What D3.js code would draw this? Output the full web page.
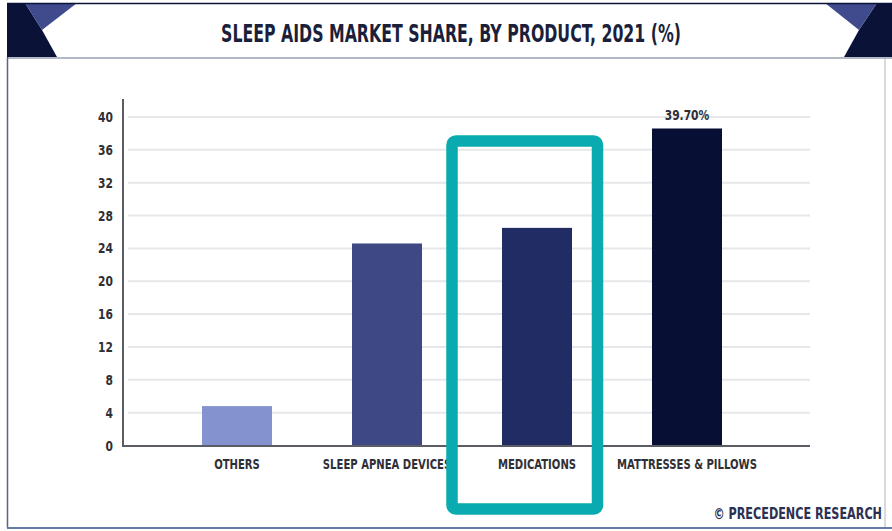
<!DOCTYPE html>
<meta charset="utf-8">
<style>
    body { margin: 0; background: #fff; }
    text { font-family: "Liberation Sans Narrow", "DejaVu Sans Condensed", "Roboto", sans-serif; font-weight: bold; }
    .grid line { stroke: #e7e7ea; stroke-width: 2px; }
    .tick-label { font-size: 14px; fill: #2f2f36; }
</style>
<svg width="892" height="531"></svg>
<script src="https://cdn.jsdelivr.net/npm/d3@7"></script>
<script>

    var categories = ["OTHERS", "SLEEP APNEA DEVICES", "MEDICATIONS", "MATTRESSES & PILLOWS"];
    var shares = [4.8, 24.6, 26.5, 38.6];
    var barColors = ["#8493cf", "#3d4884", "#212b64", "#080f35"];
    var yTicks = [0, 4, 8, 12, 16, 20, 24, 28, 32, 36, 40];
    var topLabel = "39.70%";
    var title = "SLEEP AIDS MARKET SHARE, BY PRODUCT, 2021 (%)";
    var credit = "\u00A9 PRECEDENCE RESEARCH";

    var svg = d3.select("svg");

    // squeeze a text horizontally so it looks like the narrow poster font
    function narrow(sel, cx, cy, sx) {
        sel.attr("x", 0).attr("y", 0)
            .attr("transform", "translate(" + cx + "," + cy + ") scale(" + sx + ",1)");
    }

    // header banner
    var head = svg.append("g");
    head.append("polygon").attr("points", "7,3 25,3 42,30 57,57 7,57").attr("fill", "#0b1238");
    head.append("polygon").attr("points", "25,3 77,3 42,30").attr("fill", "#3f4b8c");
    head.append("polygon").attr("points", "877,3 892,3 892,57 844,57 859,30").attr("fill", "#0b1238");
    head.append("polygon").attr("points", "825,3 877,3 859,30").attr("fill", "#3f4b8c");
    head.append("line").attr("x1", 7).attr("x2", 892).attr("y1", 3.5).attr("y2", 3.5)
        .attr("stroke", "#0b1238").attr("stroke-width", 1.5);
    head.append("line").attr("x1", 7).attr("x2", 892).attr("y1", 58).attr("y2", 58)
        .attr("stroke", "#9aa0b4").attr("stroke-width", 1.5);

    head.append("text")
        .attr("text-anchor", "middle")
        .style("font-size", "24px")
        .style("fill", "#1b1f3a")
        .text(title)
        .call(narrow, 451, 42, 0.73);

    // frame of the chart area
    svg.append("line").attr("x1", 7.5).attr("x2", 7.5).attr("y1", 57).attr("y2", 528)
        .attr("stroke", "#5a6286").attr("stroke-width", 1.5);
    svg.append("line").attr("x1", 885).attr("x2", 885).attr("y1", 59).attr("y2", 528)
        .attr("stroke", "#c9ccd6").attr("stroke-width", 1.5);
    svg.append("line").attr("x1", 7).attr("x2", 892).attr("y1", 528).attr("y2", 528)
        .attr("stroke", "#6a7aa6").attr("stroke-width", 2);

    var x = d3.scaleBand()
        .domain(categories)
        .range([162, 762])
        .paddingInner(0.5333)
        .paddingOuter(0.2667);

    var y = d3.scaleLinear().domain([0, 40]).range([445.5, 117]);

    // gridlines
    svg.append("g")
        .attr("class", "grid")
        .selectAll("line")
        .data(yTicks.slice(1))
        .enter().append("line")
        .attr("x1", 128).attr("x2", 810)
        .attr("y1", function(d) { return y(d); })
        .attr("y2", function(d) { return y(d); });

    // y axis labels
    svg.append("g")
        .selectAll("text")
        .data(yTicks)
        .enter().append("text")
        .attr("class", "tick-label")
        .attr("dy", "0.36em")
        .attr("text-anchor", "end")
        .text(function(d) { return d; })
        .each(function(d) { d3.select(this).call(narrow, 113, y(d), 0.85); });

    // bars
    svg.append("g")
        .selectAll("rect")
        .data(shares)
        .enter().append("rect")
        .attr("x", function(d, i) { return x(categories[i]); })
        .attr("y", function(d) { return y(d); })
        .attr("width", x.bandwidth())
        .attr("height", function(d) { return y(0) - y(d); })
        .attr("fill", function(d, i) { return barColors[i]; });

    // axes lines
    svg.append("line").attr("x1", 123).attr("x2", 810).attr("y1", y(0) + 0.5).attr("y2", y(0) + 0.5)
        .attr("stroke", "#5c5c64").attr("stroke-width", 2);
    svg.append("line").attr("x1", 123).attr("x2", 123).attr("y1", 99).attr("y2", y(0) + 1.5)
        .attr("stroke", "#5c5c64").attr("stroke-width", 2);

    // category labels
    svg.append("g")
        .selectAll("text")
        .data(categories)
        .enter().append("text")
        .attr("text-anchor", "middle")
        .style("font-size", "14px")
        .style("fill", "#2f2f36")
        .text(function(d) { return d; })
        .each(function(d) { d3.select(this).call(narrow, x(d) + x.bandwidth() / 2, 469, 0.8); });

    // value label on the tallest bar
    svg.append("text")
        .attr("text-anchor", "middle")
        .style("font-size", "14px")
        .style("fill", "#2f2f36")
        .text(topLabel)
        .call(narrow, x(categories[3]) + x.bandwidth() / 2, y(shares[3]) - 8, 0.85);

    // highlight box
    svg.append("rect")
        .attr("x", 452)
        .attr("y", 141)
        .attr("width", 145.5)
        .attr("height", 368)
        .attr("rx", 4)
        .attr("fill", "none")
        .attr("stroke", "#0aabb0")
        .attr("stroke-width", 11.5);

    // credit
    svg.append("text")
        .attr("text-anchor", "end")
        .style("font-size", "16px")
        .style("fill", "#2c3152")
        .text(credit)
        .call(narrow, 882, 519, 0.78);

</script>
